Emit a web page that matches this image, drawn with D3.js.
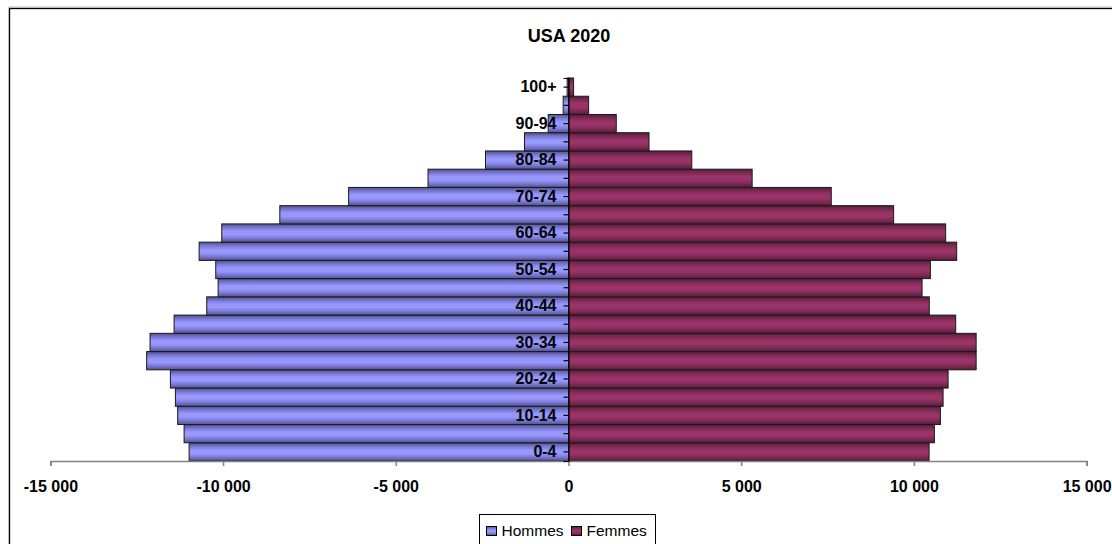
<!DOCTYPE html>
<html>
<head>
<meta charset="utf-8">
<script src="https://cdn.jsdelivr.net/npm/d3@7"></script>
<style>
  html, body { margin: 0; padding: 0; background: #fff; }
  svg { display: block; font-family: Arial, "Liberation Sans", sans-serif; }
</style>
</head>
<body>
<svg id="chart" width="1112" height="544"></svg>
<script>
// ---- Data (thousands) ----
const title = "USA 2020";
const categories = ["0-4","5-9","10-14","15-19","20-24","25-29","30-34","35-39","40-44","45-49",
  "50-54","55-59","60-64","65-69","70-74","75-79","80-84","85-89","90-94","95-99","100+"];
const hommes = [10984, 11129, 11315, 11381, 11526, 12213, 12115, 11419, 10474, 10144,
  10213, 10694, 10039, 8358, 6366, 4067, 2403, 1273, 588, 154, 40];
const femmes = [10440, 10593, 10767, 10845, 10990, 11802, 11802, 11210, 10445, 10236,
  10477, 11239, 10920, 9413, 7607, 5317, 3569, 2331, 1383, 583, 148];
const xTicks = [-15000, -10000, -5000, 0, 5000, 10000, 15000];
const shownLabels = ["0-4","10-14","20-24","30-34","40-44","50-54","60-64","70-74","80-84","90-94","100+"];
const seriesNames = ["Hommes", "Femmes"];

// ---- Layout ----
const svg = d3.select("#chart");
const plot = { left: 50.4, right: 1086.6, top: 78, bottom: 461 };

const x = d3.scaleLinear().domain([-15000, 15000]).range([plot.left, plot.right]);
const y = d3.scaleBand().domain(categories.slice().reverse()).range([plot.top, plot.bottom]).paddingInner(0).paddingOuter(0);

// gradients
const defs = svg.append("defs");
function grad(id, edge, mid, light) {
  const g = defs.append("linearGradient").attr("id", id).attr("x1", 0).attr("y1", 0).attr("x2", 0).attr("y2", 1);
  [[0, edge], [0.2, mid], [0.4, light], [0.6, light], [0.8, mid], [1, edge]].forEach(([o, c]) =>
    g.append("stop").attr("offset", o).attr("stop-color", c));
}
grad("gH", "#50508a", "#7777d2", "#9797fc");
grad("gF", "#561d3a", "#7c2a53", "#9a3367");

// chart border
svg.append("rect").attr("x", 9).attr("y", 7).attr("width", 1120).attr("height", 560)
  .attr("fill", "none").attr("stroke", "#c0c0c0").attr("stroke-width", 1);
svg.append("rect").attr("x", 9.5).attr("y", 8.5).attr("width", 1120).attr("height", 560)
  .attr("fill", "none").attr("stroke", "#000").attr("stroke-width", 1.3);

// title
svg.append("text").attr("x", 569).attr("y", 42).attr("text-anchor", "middle")
  .attr("font-size", 18).attr("font-weight", "bold").text(title);

// bars
const g = svg.append("g");
g.selectAll("rect.h").data(categories).join("rect").attr("class", "h")
  .attr("x", (d, i) => x(-hommes[i])).attr("width", (d, i) => x(0) - x(-hommes[i]))
  .attr("y", d => y(d)).attr("height", y.bandwidth())
  .attr("fill", "url(#gH)").attr("stroke", "#1a1a1a").attr("stroke-width", 1);
g.selectAll("rect.f").data(categories).join("rect").attr("class", "f")
  .attr("x", x(0)).attr("width", (d, i) => x(femmes[i]) - x(0))
  .attr("y", d => y(d)).attr("height", y.bandwidth())
  .attr("fill", "url(#gF)").attr("stroke", "#1a1a1a").attr("stroke-width", 1);

// x axis
const xAxis = d3.axisBottom(x).tickValues(xTicks).tickSize(5).tickPadding(15)
  .tickFormat(d => d3.format(",")(d).replace(/,/g, " ").replace("−", "-"));
const xa = svg.append("g").attr("transform", `translate(0,${plot.bottom})`).call(xAxis);
xa.select(".domain").attr("stroke", "#808080").attr("stroke-width", 1.5);
xa.selectAll(".tick line").attr("stroke", "#808080").attr("stroke-width", 1.5);
xa.selectAll(".tick text").attr("font-size", 16).attr("font-weight", "bold")
  .attr("font-family", "Arial, 'Liberation Sans', sans-serif").attr("fill", "#000");

// y axis at zero
const yAxis = d3.axisLeft(y).tickSize(5).tickPadding(7)
  .tickFormat(d => shownLabels.includes(d) ? d : "");
const ya = svg.append("g").attr("transform", `translate(${x(0)},0)`).call(yAxis);
ya.select(".domain").attr("stroke", "#000").attr("stroke-width", 1.2);
ya.selectAll(".tick line").attr("stroke", "#000").attr("stroke-width", 1.2);
ya.selectAll(".tick text").attr("font-size", 16).attr("font-weight", "bold")
  .attr("font-family", "Arial, 'Liberation Sans', sans-serif").attr("fill", "#000");

// legend
const lg = svg.append("g");
lg.append("rect").attr("x", 479.5).attr("y", 514.5).attr("width", 176).attr("height", 40)
  .attr("fill", "#fff").attr("stroke", "#000").attr("stroke-width", 1);
const legX = [[486.5, 501.5], [571.5, 586.5]];
const legFill = ["url(#gH)", "url(#gF)"];
seriesNames.forEach((n, i) => {
  lg.append("rect").attr("x", legX[i][0]).attr("y", 526.5).attr("width", 10).attr("height", 9)
    .attr("fill", legFill[i]).attr("stroke", "#000").attr("stroke-width", 1);
  lg.append("text").attr("x", legX[i][1]).attr("y", 536).attr("font-size", 15.5).text(n);
});
</script>
</body>
</html>
